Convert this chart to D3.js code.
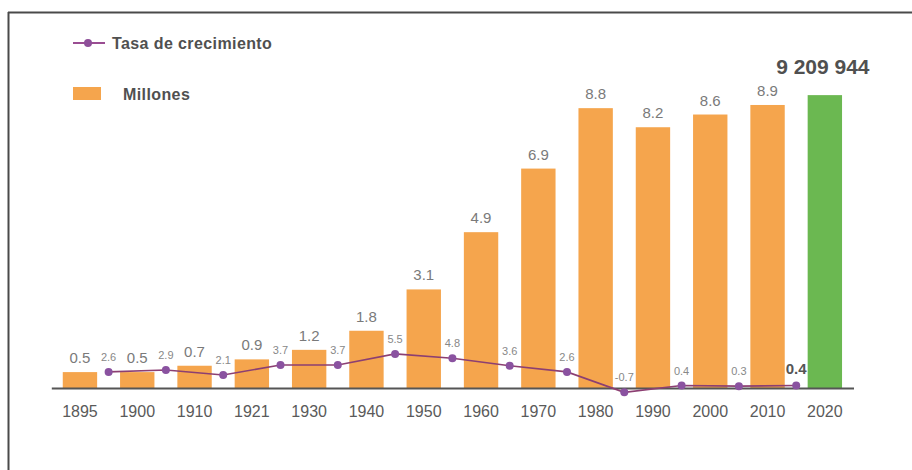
<!DOCTYPE html>
<html>
<head>
<meta charset="utf-8">
<script src="https://cdn.jsdelivr.net/npm/d3@7"></script>
<style>
  html, body { margin: 0; padding: 0; background: #fff; }
  svg { display: block; font-family: "Liberation Sans", Arial, sans-serif; }
</style>
</head>
<body>
<svg id="chart" width="912" height="470"></svg>
<script>
// Población por censo (millones) y tasa de crecimiento intercensal (%)
const years = ["1895", "1900", "1910", "1921", "1930", "1940", "1950", "1960", "1970", "1980", "1990", "2000", "2010", "2020"];
const millions = [0.5, 0.5, 0.7, 0.9, 1.2, 1.8, 3.1, 4.9, 6.9, 8.8, 8.2, 8.6, 8.9, 9.209944];
const millionLabels = ["0.5", "0.5", "0.7", "0.9", "1.2", "1.8", "3.1", "4.9", "6.9", "8.8", "8.2", "8.6", "8.9", "9 209 944"];
const growth = [2.6, 2.9, 2.1, 3.7, 3.7, 5.5, 4.8, 3.6, 2.6, -0.7, 0.4, 0.3, 0.4];
const growthLabels = ["2.6", "2.9", "2.1", "3.7", "3.7", "5.5", "4.8", "3.6", "2.6", "-0.7", "0.4", "0.3", "0.4"];
const legendItems = ["Tasa de crecimiento", "Millones"];

const ORANGE = "#f5a54d";
const GREEN = "#6bb851";
const LINE = "#8c3f72";
const DOT = "#8a52a0";

const svg = d3.select("#chart");

// marco
svg.append("line").attr("x1", 8).attr("x2", 912).attr("y1", 12.5).attr("y2", 12.5)
  .attr("stroke", "#4a4a4a").attr("stroke-width", 2);
svg.append("line").attr("x1", 8.5).attr("x2", 8.5).attr("y1", 12).attr("y2", 470)
  .attr("stroke", "#4a4a4a").attr("stroke-width", 2);

const baseY = 388;
const x = d3.scaleBand().domain(years).range([51.3, 853.5]).paddingInner(0.4).paddingOuter(0.2);
const y = d3.scaleLinear().domain([0, 10]).range([baseY, baseY - 318]);
const yRate = d3.scaleLinear().domain([0, 10]).range([baseY, baseY - 62]);

const cx = yr => x(yr) + x.bandwidth() / 2;
const last = years.length - 1;

// barras
svg.append("g").selectAll("rect").data(years).join("rect")
  .attr("x", d => x(d))
  .attr("y", (d, i) => y(millions[i]))
  .attr("width", x.bandwidth())
  .attr("height", (d, i) => y(0) - y(millions[i]))
  .attr("fill", (d, i) => i === last ? GREEN : ORANGE);

// etiquetas de las barras
svg.append("g").selectAll("text").data(years).join("text")
  .attr("x", (d, i) => i === last ? cx(d) - 2 : cx(d))
  .attr("y", (d, i) => i === last ? y(millions[i]) - 21 : y(millions[i]) - 9)
  .attr("text-anchor", "middle")
  .attr("font-size", (d, i) => i === last ? 21 : 15)
  .attr("font-weight", (d, i) => i === last ? "bold" : "normal")
  .attr("fill", (d, i) => i === last ? "#505050" : "#7a7a7a")
  .text((d, i) => millionLabels[i]);

// eje x
const axis = svg.append("g").attr("transform", `translate(0,${baseY})`)
  .call(d3.axisBottom(x).tickSize(0).tickPadding(18));
axis.select(".domain").attr("stroke", "#555").attr("stroke-width", 2);
axis.selectAll("text").attr("font-size", 16).attr("fill", "#5a5a5a")
  .attr("font-family", "'Liberation Sans', Arial, sans-serif");

// tasa de crecimiento entre censos
const ratePts = growth.map((g, i) => ({
  x: (cx(years[i]) + cx(years[i + 1])) / 2,
  v: g,
  label: growthLabels[i]
}));
const lastRate = ratePts.length - 1;

svg.append("path").datum(ratePts)
  .attr("fill", "none").attr("stroke", LINE).attr("stroke-width", 1.6)
  .attr("d", d3.line().x(d => d.x).y(d => yRate(d.v)));

svg.append("g").selectAll("circle").data(ratePts).join("circle")
  .attr("cx", d => d.x).attr("cy", d => yRate(d.v)).attr("r", 4)
  .attr("fill", DOT);

svg.append("g").selectAll("text").data(ratePts).join("text")
  .attr("x", d => d.x)
  .attr("y", (d, i) => yRate(d.v) - (i === lastRate ? 12 : 11))
  .attr("text-anchor", "middle")
  .attr("font-size", (d, i) => i === lastRate ? 15 : 11)
  .attr("font-weight", (d, i) => i === lastRate ? "bold" : "normal")
  .attr("fill", (d, i) => i === lastRate ? "#555" : "#888")
  .text(d => d.label);

// leyenda
const legend = svg.append("g");
legend.append("line").attr("x1", 73).attr("x2", 105).attr("y1", 43).attr("y2", 43)
  .attr("stroke", "#9a4d92").attr("stroke-width", 2);
legend.append("circle").attr("cx", 88).attr("cy", 43).attr("r", 4).attr("fill", "#8e4f99");
legend.append("text").attr("x", 112).attr("y", 49).attr("font-size", 16)
  .attr("letter-spacing", 0.4)
  .attr("font-weight", "bold").attr("fill", "#505050").text(legendItems[0]);
legend.append("rect").attr("x", 73).attr("y", 87).attr("width", 28).attr("height", 13).attr("fill", ORANGE);
legend.append("text").attr("x", 123).attr("y", 100).attr("font-size", 16)
  .attr("letter-spacing", 0.4)
  .attr("font-weight", "bold").attr("fill", "#505050").text(legendItems[1]);
</script>
</body>
</html>
